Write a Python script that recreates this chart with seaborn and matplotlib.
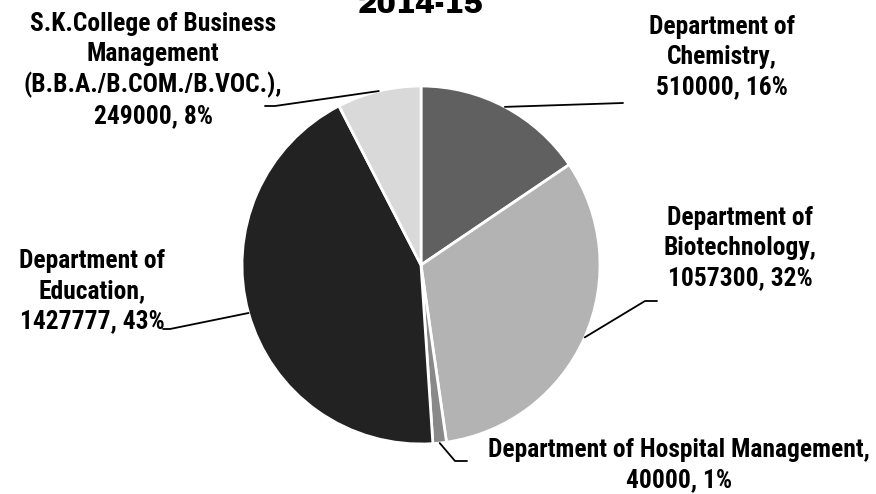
import numpy as np
import pandas as pd
import matplotlib
matplotlib.use('Agg')
import matplotlib.pyplot as plt
import seaborn as sns
from matplotlib import font_manager

# data
departments = ['Department of\nChemistry',
               'Department of\nBiotechnology',
               'Department of Hospital Management',
               'Department of\nEducation',
               'S.K.College of Business\nManagement\n(B.B.A./B.COM./B.VOC.)']
amounts = [510000, 1057300, 40000, 1427777, 249000]
greys = ['#606060', '#b3b3b3', '#898989', '#222222', '#d9d9d9']
title_text = '2014-15'

sns.set_theme(style='white')
names = {f.name for f in font_manager.fontManager.ttflist}

def pick(prefs, fallback='DejaVu Sans'):
    for p in prefs:
        if p in names:
            return p
    return fallback

narrow = pick(['Liberation Sans Narrow', 'Arial Narrow', 'Roboto Condensed',
               'Fira Sans Condensed', 'IBM Plex Sans Condensed'])
heavy = pick(['Arial Black', 'Archivo Black', 'Liberation Sans'])
plt.rcParams['font.family'] = [narrow, 'DejaVu Sans']

W, H = 876, 494
fig = plt.figure(figsize=(W / 100, H / 100), dpi=100)
cx, cy, r = 421, 265, 179
ax = fig.add_axes([(cx - r) / W, (H - cy - r) / H, 2 * r / W, 2 * r / H])

wedges, _ = ax.pie(amounts, colors=greys, startangle=90, counterclock=False,
                   radius=1, wedgeprops=dict(edgecolor='white', linewidth=2))
ax.set_xlim(-1, 1)
ax.set_ylim(-1, 1)
ax.axis('off')

def px(x, y):
    return (x - cx) / r, (cy - y) / r

renderer = fig.canvas.get_renderer()

def fit_size(text, family, weight, target, start=17):
    t = fig.text(0, 0, text, fontsize=start, family=family, fontweight=weight)
    w = t.get_window_extent(renderer).width
    t.remove()
    return start * target / w

label_size = fit_size('Department of Hospital Management,', [narrow], 'bold', 382)

# label layout: text centre, elbow points of leader line (pixels)
layout = [
    ((722, 57), [(623, 103)]),
    ((740, 248), [(645, 301), (657, 301)]),
    ((679, 465), [(455, 461), (467, 461)]),
    ((92, 291), [(170, 329), (163, 329)]),
    ((153, 70), [(275, 106), (265, 106)]),
]

total = sum(amounts)
for w, name, val, (tpos, elbow) in zip(wedges, departments, amounts, layout):
    ang = np.deg2rad((w.theta1 + w.theta2) / 2)
    pts = [(np.cos(ang), np.sin(ang))] + [px(*p) for p in elbow]
    xs, ys = zip(*pts)
    ax.plot(xs, ys, color='black', lw=1.3, clip_on=False)
    label = f'{name},\n{val}, {round(val / total * 100)}%'
    tx, ty = px(*tpos)
    ax.text(tx, ty, label, ha='center', va='center', fontsize=label_size,
            fontweight='bold', color='black', linespacing=1.3)

title_size = fit_size(title_text, [heavy], 'heavy', 126, start=24)
fig.text(421 / W, 1 - 13 / H, title_text, ha='center', va='baseline',
         fontsize=title_size, fontweight='heavy', family=[heavy], color='black')

fig.savefig('out.png', dpi=100)
